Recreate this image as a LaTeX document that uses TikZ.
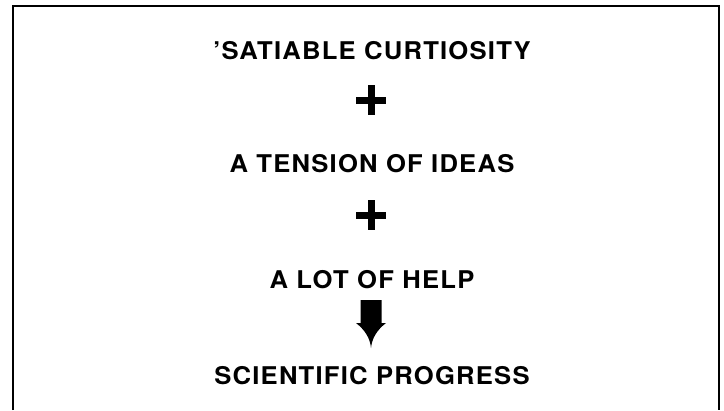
\documentclass[tikz,border=0pt]{standalone}
\usepackage{fontspec}
\setmainfont{TeX Gyre Heros}[FakeStretch=1.05,LetterSpace=5]
\usetikzlibrary{calc}
\begin{document}
\begin{tikzpicture}[x=1bp,y=-1bp,
  lab/.style={font=\bfseries\fontsize{24.4bp}{28bp}\selectfont, inner sep=0pt, anchor=base},
  plusbar/.style={line width=7bp},
  frameline/.style={line width=2.7bp},
  blockarrow/.style={fill=black}]
\useasboundingbox (0,0) rectangle (724,410);
\draw[frameline] (13,410) -- (13,6) -- (719,6) -- (719,410);
\node[lab] (t1) at (372,59) {'SATIABLE CURTIOSITY};
\coordinate (p1) at (371,100);
\draw[plusbar] (p1) ++(-15,0) -- ++(30,0);
\draw[plusbar] (p1) ++(0,-15) -- ++(0,30);
\node[lab] (t2) at (372,172) {A TENSION OF IDEAS};
\coordinate (p2) at (371,215);
\draw[plusbar] (p2) ++(-15,0) -- ++(30,0);
\draw[plusbar] (p2) ++(0,-15) -- ++(0,30);
\node[lab] (t3) at (372,288) {A LOT OF HELP};
\coordinate (a) at (371,300);
\node[lab] (t4) at (372,384) {SCIENTIFIC PROGRESS};
\fill[blockarrow] ($(a)+(-10.5,0)$) -- ($(a)+(10.5,0)$) -- ($(a)+(10.5,23)$) -- ($(a)+(15,23)$)
  .. controls ($(a)+(6,30)$) and ($(a)+(1,38)$) .. ($(a)+(0,48)$)
  .. controls ($(a)+(-1,38)$) and ($(a)+(-6,30)$) .. ($(a)+(-15,23)$)
  -- ($(a)+(-10.5,23)$) -- cycle;
\end{tikzpicture}
\end{document}
